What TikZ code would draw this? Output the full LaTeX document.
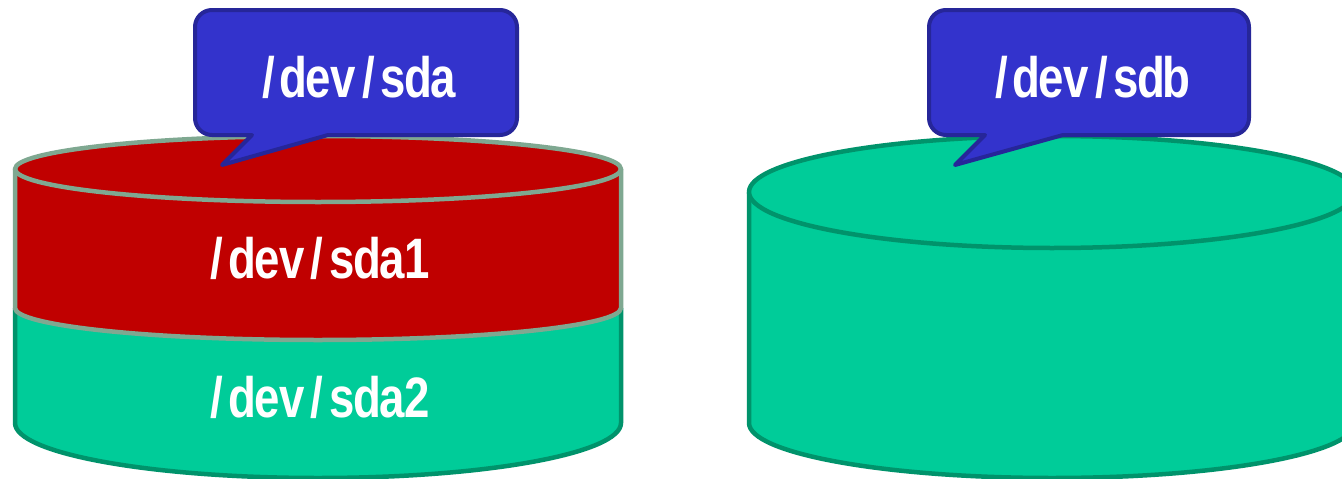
\documentclass[tikz,border=0pt]{standalone}
\usepackage{fontspec}
\newfontfamily\lblfont[FakeStretch=0.8]{Liberation Sans}
\definecolor{grn}{HTML}{00CC99}
\definecolor{grnline}{HTML}{00936B}
\definecolor{redfill}{HTML}{C00000}
\definecolor{redline}{HTML}{7FA891}
\definecolor{bluefill}{HTML}{3333CC}
\definecolor{blueline}{HTML}{262699}
\newcommand\cc[1]{\makebox[25pt][c]{#1}}
\tikzset{
  lbl/.style={text=white, inner sep=0pt, anchor=base, font=\lblfont\bfseries\fontsize{57}{60}\selectfont},
  cylline/.style={line width=4.5pt, line join=round},
  callout/.style={fill=bluefill, draw=blueline, line width=4pt, line join=round}
}
\begin{document}
\begin{tikzpicture}[x=1pt, y=-1pt]
\useasboundingbox (0,0) rectangle (1342,479);
\clip (0,0) rectangle (1342,479);
% ---- left cylinder ----
\fill[grn] (15,308) -- (15,423) arc[start angle=180, end angle=0, x radius=303, y radius=55] -- (621,308) arc[start angle=0, end angle=180, x radius=303, y radius=32] -- cycle;
\draw[grnline, cylline] (15,308) -- (15,423) arc[start angle=180, end angle=0, x radius=303, y radius=55] -- (621,308);
\fill[redfill] (15,169) -- (15,308) arc[start angle=180, end angle=0, x radius=303, y radius=32] -- (621,169) -- cycle;
\draw[redline, cylline] (15,169) -- (15,308) arc[start angle=180, end angle=0, x radius=303, y radius=32] -- (621,169);
\draw[redline, cylline, fill=redfill] (318,169) ellipse[x radius=303, y radius=33];
% ---- right cylinder ----
\fill[grn] (749,192) -- (749,423) arc[start angle=180, end angle=0, x radius=303, y radius=55] -- (1355,192) -- cycle;
\draw[grnline, cylline] (749,192) -- (749,423) arc[start angle=180, end angle=0, x radius=303, y radius=55] -- (1355,192);
\draw[grnline, cylline, fill=grn] (1052,192) ellipse[x radius=303, y radius=56];
% ---- callouts ----
\draw[callout] (195,27) arc[start angle=180, end angle=270, radius=17] -- (500,10)
  arc[start angle=270, end angle=360, radius=17] -- (517,118)
  arc[start angle=0, end angle=90, radius=17] -- (328,135) -- (222,165) -- (252,135) -- (212,135)
  arc[start angle=90, end angle=180, radius=17] -- cycle;
\draw[callout] (929,27) arc[start angle=180, end angle=270, radius=17] -- (1232,10)
  arc[start angle=270, end angle=360, radius=17] -- (1249,118)
  arc[start angle=0, end angle=90, radius=17] -- (1063,135) -- (955,165) -- (985,135) -- (946,135)
  arc[start angle=90, end angle=180, radius=17] -- cycle;
% ---- labels ----
\node[lbl] (sda) at (356,97) {\cc{/}\cc{d}\cc{e}\cc{v}\cc{/}\cc{s}\cc{d}\cc{a}};
\node[lbl] (sdb) at (1089,97) {\cc{/}\cc{d}\cc{e}\cc{v}\cc{/}\cc{s}\cc{d}\cc{b}};
\node[lbl] (sda1) at (317,278) {\cc{/}\cc{d}\cc{e}\cc{v}\cc{/}\cc{s}\cc{d}\cc{a}\cc{1}};
\node[lbl] (sda2) at (317,417) {\cc{/}\cc{d}\cc{e}\cc{v}\cc{/}\cc{s}\cc{d}\cc{a}\cc{2}};
\end{tikzpicture}
\end{document}
